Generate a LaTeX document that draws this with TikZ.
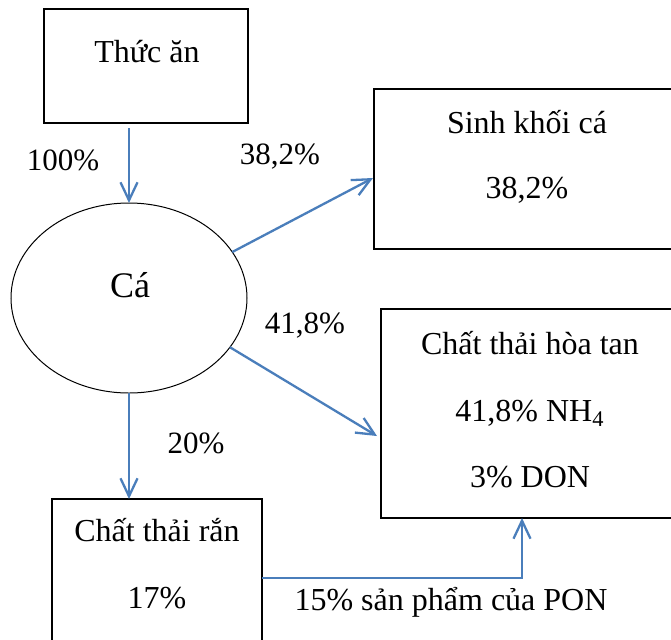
\documentclass[tikz,border=0pt]{standalone}
\usepackage{fontspec}
\setmainfont{Liberation Serif}
\usetikzlibrary{arrows.meta,calc,shapes.geometric}
\definecolor{flowblue}{HTML}{4A7EBB}
\tikzset{
  boxnode/.style={draw=black, line width=0.65pt, rectangle, inner sep=0pt, outer sep=0pt},
  boxtext/.style={inner sep=0pt, font=\fontsize{16}{19}\selectfont},
  lbl/.style={inner sep=0pt, font=\fontsize{15.5}{18}\selectfont},
  arr/.style={draw=flowblue, line width=1.15pt, -{Straight Barb[length=9pt,width=8.5pt,line width=1.15pt]}},
  flow/.style={draw=flowblue, line width=1.15pt}
}
\begin{document}
\begin{tikzpicture}[x=0.5pt,y=-0.5pt]
\useasboundingbox (0,0) rectangle (671,639);
\fill[white] (0,0) rectangle (671,639);
\clip (0,0) rectangle (671,639);

% boxes
\node[boxnode, minimum width=102pt, minimum height=57pt] (thuc) at (146,66) {};
\node[boxtext] (thuct) at (147,52) {Thức ăn};

\node[boxnode, minimum width=153pt, minimum height=80pt] (sinh) at (527,169) {};
\node[boxtext] (sinht1) at (527,122) {Sinh khối cá};
\node[boxtext] (sinht2) at (527,190) {38,2\%};

\node[boxnode, minimum width=149.5pt, minimum height=104.5pt] (hoa) at (530.5,413.5) {};
\node[boxtext] (hoat1) at (530,343) {Chất thải hòa tan};
\node[boxtext] (hoat2) at (530,413) {41,8\% NH\textsubscript{4}};
\node[boxtext] (hoat3) at (530,477) {3\% DON};

\node[boxnode, minimum width=105pt, minimum height=79pt] (ran) at (157,578) {};
\node[boxtext] (rant1) at (157,530) {Chất thải rắn};
\node[boxtext] (rant2) at (157,598) {17\%};

% ellipse
\node[draw=black, line width=0.5pt, ellipse, minimum width=118pt, minimum height=95pt, inner sep=0pt, outer sep=0pt] (ca) at (129,298) {};
\node[inner sep=0pt, font=\fontsize{18}{21}\selectfont] (cat) at (130,285) {Cá};

% labels
\node[lbl] (l100) at (63,160) {100\%};
\node[lbl] (l382) at (280,157) {38,2\%};
\node[lbl] (l418) at (305,326) {41,8\%};
\node[lbl] (l20) at (196,443) {20\%};
\node[boxtext] (l15) at (451,602) {15\% sản phẩm của PON};

% connectors
\draw[arr] ($(thuc.south -| ca.north)+(0,5)$) -- (ca.north);
\draw[arr] (ca.24) -- ($(sinh.west)+(-1,9)$);
\draw[arr] (ca.-26) -- ($(hoa.west)+(-4,22.5)$);
\draw[arr] (ca.south) -- (ran.north -| ca.south);
\draw[arr] (ran.east) -| ($(hoa.south)+(-8.5,0)$);
\end{tikzpicture}
\end{document}
